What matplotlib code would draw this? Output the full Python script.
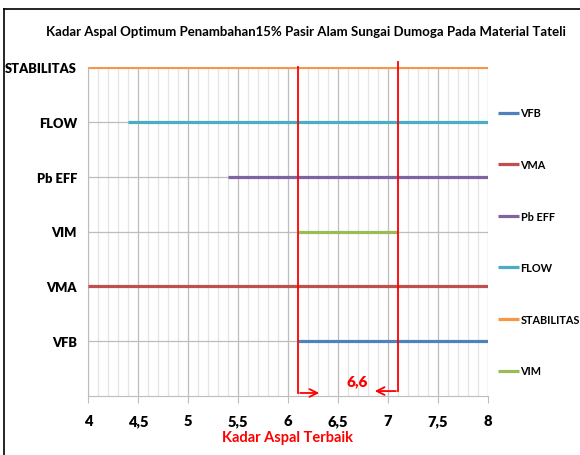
import matplotlib
matplotlib.use('Agg')
import matplotlib.pyplot as plt
from matplotlib.lines import Line2D
from matplotlib.ticker import MultipleLocator, FuncFormatter

plt.rcParams['font.family'] = ['Lato', 'DejaVu Sans']
plt.rcParams['font.weight'] = 'bold'
plt.rcParams['axes.labelweight'] = 'bold'

# --- Data: range of asphalt content (%) meeting each spec ---
series  = ['VFB', 'VMA', 'Pb EFF', 'FLOW', 'STABILITAS', 'VIM']
y_pos   = [1, 2, 4, 5, 6, 3]
x_start = [6.1, 4.0, 5.4, 4.4, 4.0, 6.1]
x_end   = [8.0, 8.0, 8.0, 8.0, 8.0, 7.1]
colors  = ['#4F81BD', '#C0504D', '#8064A2', '#4BACC6', '#F79646', '#9BBB59']

y_labels = ['VFB', 'VMA', 'VIM', 'Pb EFF', 'FLOW', 'STABILITAS']
y_ticks  = [1, 2, 3, 4, 5, 6]

lower_limit = 6.1
upper_limit = 7.1
optimum     = 6.6

fig = plt.figure(figsize=(5.8, 4.56), dpi=100)
ax = fig.add_axes([88/580, 1 - 397/456, 400/580, (397 - 68)/456])

for name, y, x0, x1, c in zip(series, y_pos, x_start, x_end, colors):
    ax.plot([x0, x1], [y, y], color=c, lw=2.3, solid_capstyle='butt', label=name, zorder=3)

ax.set_xlim(4, 8)
ax.set_ylim(0, 6)
ax.xaxis.set_major_locator(MultipleLocator(0.5))
ax.xaxis.set_minor_locator(MultipleLocator(0.1))
ax.xaxis.set_major_formatter(FuncFormatter(lambda v, p: f'{v:g}'.replace('.', ',')))
ax.set_yticks(y_ticks)
ax.set_yticklabels(y_labels)

ax.grid(axis='x', which='major', color='#BDBDBD', lw=0.9)
ax.grid(axis='x', which='minor', color='#E4E4E4', lw=0.9)
ax.grid(axis='y', which='major', color='#BDBDBD', lw=0.9)
ax.set_axisbelow(True)

for s in ['top', 'right']:
    ax.spines[s].set_visible(False)
for s in ['left', 'bottom']:
    ax.spines[s].set_color('#BDBDBD')
ax.tick_params(axis='x', which='major', length=5, color='#BDBDBD', labelsize=10.5, pad=8)
ax.tick_params(axis='x', which='minor', length=0)
ax.tick_params(axis='y', length=0, labelsize=9.3, pad=8)
plt.setp(ax.get_xticklabels() + ax.get_yticklabels(), fontweight='heavy')

# limits of the usable range, with arrows pointing to the optimum
ax.plot([lower_limit, lower_limit], [6.0, 0.055], color='red', lw=1.3, clip_on=False, zorder=4)
ax.plot([upper_limit, upper_limit], [6.09, 0.09], color='red', lw=1.3, clip_on=False, zorder=4)
ax.annotate('', xy=(lower_limit + 0.24, 0.055), xytext=(lower_limit - 0.007, 0.055),
            arrowprops=dict(arrowstyle='->', color='red', lw=1.3, mutation_scale=14), annotation_clip=False)
ax.annotate('', xy=(upper_limit - 0.26, 0.09), xytext=(upper_limit + 0.007, 0.09),
            arrowprops=dict(arrowstyle='->', color='red', lw=1.3, mutation_scale=14), annotation_clip=False)
ax.text(optimum + 0.09, 0.28, f'{optimum:g}'.replace('.', ','), color='red',
        fontsize=11, ha='center', va='center', fontweight='heavy')

ax.set_xlabel('Kadar Aspal Terbaik', color='red', fontsize=10.5, labelpad=2)

fig.text(0.527, 1 - 32/456, 'Kadar Aspal Optimum Penambahan15% Pasir Alam Sungai Dumoga Pada Material Tateli',
         ha='center', va='center', fontsize=9.5)

fig.legend(loc='upper left', bbox_to_anchor=(494/580, 1 - 104/456), frameon=False,
           prop={'size': 7.8, 'weight': 'bold'}, handlelength=1.9, handletextpad=0.15,
           labelspacing=3.75, borderaxespad=0)

# outer frame (top and left edges)
fig.add_artist(Line2D([4/580, 1], [1 - 10/456, 1 - 10/456], color='black', lw=1.2))
fig.add_artist(Line2D([4/580, 4/580], [0, 1 - 10/456], color='black', lw=1.2))

fig.savefig('out.png', dpi=100)
